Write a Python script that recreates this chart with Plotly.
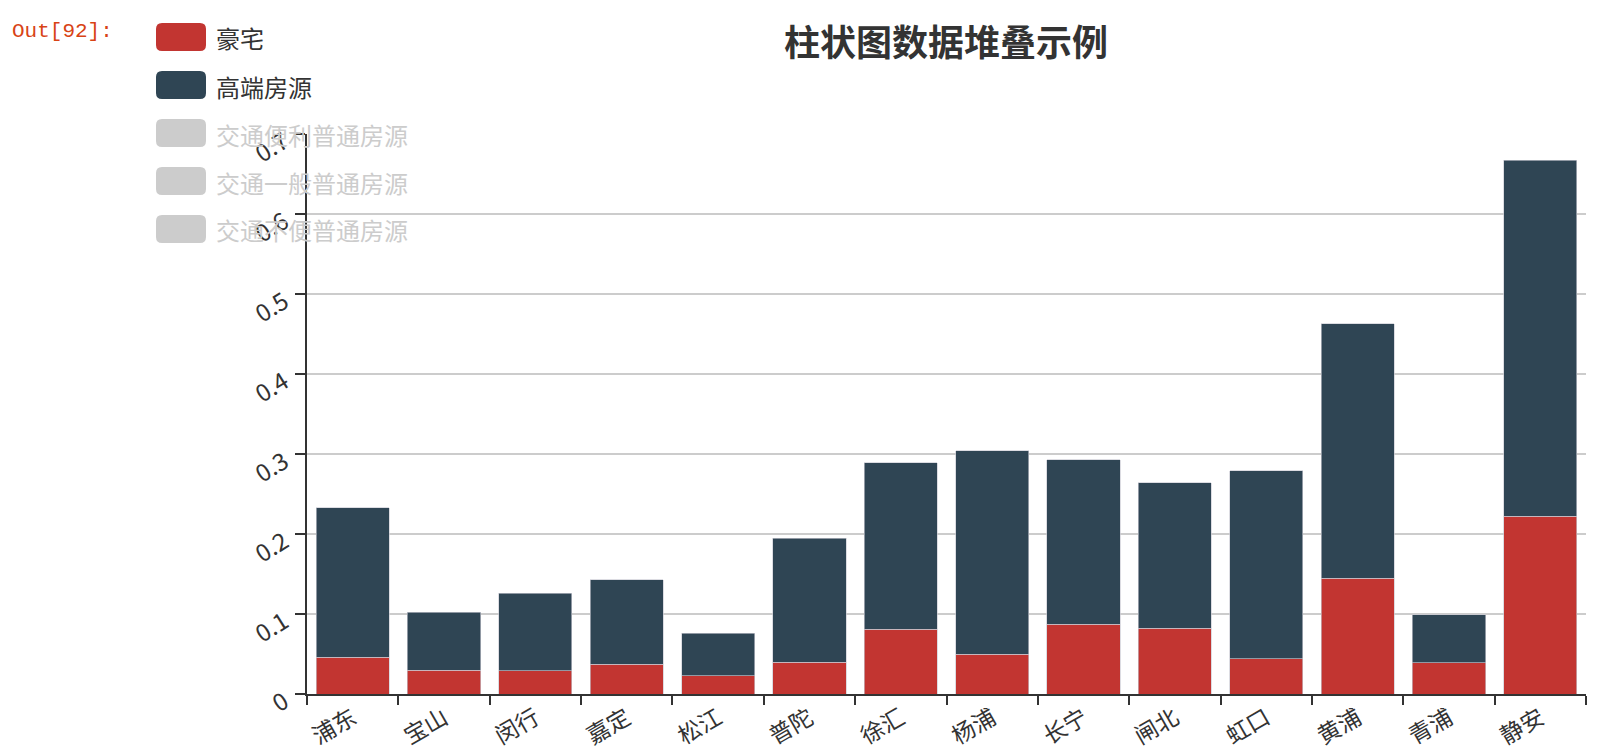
import plotly.graph_objects as go

districts = ["浦东", "宝山", "闵行", "嘉定", "松江", "普陀", "徐汇", "杨浦", "长宁", "闸北", "虹口", "黄浦", "青浦", "静安"]
luxury = [0.046, 0.030, 0.029, 0.037, 0.023, 0.040, 0.081, 0.050, 0.087, 0.082, 0.044, 0.145, 0.039, 0.222]
highend = [0.187, 0.072, 0.097, 0.106, 0.053, 0.155, 0.208, 0.254, 0.206, 0.182, 0.235, 0.318, 0.060, 0.445]
series_names = ["豪宅", "高端房源", "交通便利普通房源", "交通一般普通房源", "交通不便普通房源"]
series_active = [True, True, False, False, False]
series_colors = ["#c23531", "#2f4554", "#61a0a8", "#d48265", "#91c7ae"]
y_ticks = [0, 0.1, 0.2, 0.3, 0.4, 0.5, 0.6, 0.7]
title_text = "柱状图数据堆叠示例"

# page is 1614x751; the figure div sits at an 8px body margin
OFF = 8
W, H = 1614 - OFF, 751 - OFF
# plot area in page pixels: x 307..1586, y 134..694
PL, PR, PT, PB = 307, 1586, 134, 694
ML, MR, MT, MB = PL - OFF, W - (PR - OFF), PT - OFF, H - (PB - OFF)
PW, PH = PR - PL, PB - PT
FONT = "Noto Sans CJK SC"


def px(x):  # page x -> paper
    return (x - PL) / PW


def py(y):  # page y -> paper
    return (PB - y) / PH


fig = go.Figure()
fig.add_trace(go.Bar(x=districts, y=luxury, name=series_names[0],
                     marker=dict(color=series_colors[0], line=dict(color="rgba(200,200,210,0.8)", width=0.8))))
fig.add_trace(go.Bar(x=districts, y=highend, name=series_names[1],
                     marker=dict(color=series_colors[1], line=dict(color="rgba(200,200,210,0.8)", width=0.8))))

shapes = []
annotations = []

# custom legend
for i, (name, active) in enumerate(zip(series_names, series_active)):
    col = series_colors[i] if active else "#cccccc"
    tcol = "#333333" if active else "#cccccc"
    x0, x1 = 156, 206
    y0 = 23 + i * 48
    y1 = y0 + 28
    r = 6
    path = (f"M {px(x0 + r)},{py(y0)} L {px(x1 - r)},{py(y0)} "
            f"Q {px(x1)},{py(y0)} {px(x1)},{py(y0 + r)} L {px(x1)},{py(y1 - r)} "
            f"Q {px(x1)},{py(y1)} {px(x1 - r)},{py(y1)} L {px(x0 + r)},{py(y1)} "
            f"Q {px(x0)},{py(y1)} {px(x0)},{py(y1 - r)} L {px(x0)},{py(y0 + r)} "
            f"Q {px(x0)},{py(y0)} {px(x0 + r)},{py(y0)} Z")
    shapes.append(dict(type="path", xref="paper", yref="paper", path=path,
                       fillcolor=col, line=dict(width=0), layer="above"))
    annotations.append(dict(xref="paper", yref="paper", x=px(214), y=py((y0 + y1) / 2 + 1),
                            xanchor="left", yanchor="middle", showarrow=False,
                            text=name, font=dict(family=FONT, size=24, color=tcol)))

# notebook output prompt
annotations.append(dict(xref="paper", yref="paper", x=px(10), y=py(31),
                        xanchor="left", yanchor="middle", showarrow=False,
                        text="Out[92]:", font=dict(family="Liberation Mono", size=21, color="#d84315")))
# cell border line
shapes.append(dict(type="line", xref="paper", yref="paper", x0=px(140), x1=px(1614), y0=py(1), y1=py(1),
                   line=dict(color="#cfcfcf", width=2)))

fig.update_layout(
    width=W, height=H,
    margin=dict(l=ML, r=MR, t=MT, b=MB, pad=0),
    barmode="stack", bargap=0.2,
    showlegend=False,
    plot_bgcolor="white", paper_bgcolor="white",
    title=dict(text="<b>" + title_text + "</b>", x=(946 - OFF) / W, xref="container", xanchor="center",
               y=1 - (43 - OFF) / H, yref="container", yanchor="middle",
               font=dict(family=FONT, size=36, color="#333333")),
    font=dict(family=FONT, color="#333333"),
    shapes=shapes, annotations=annotations,
)
fig.update_xaxes(
    type="category", tickson="boundaries", ticks="outside", ticklen=9, tickwidth=2, tickcolor="#333333",
    showline=True, linecolor="#333333", linewidth=2, showgrid=False, automargin=False,
    tickangle=-30, tickfont=dict(family=FONT, size=23, color="#333333"),
)
fig.update_yaxes(
    range=[0, 0.7], tickvals=y_ticks, ticktext=[f"{v:g}" for v in y_ticks],
    ticks="outside", ticklen=10, tickwidth=2, tickcolor="#333333",
    showline=True, linecolor="#333333", linewidth=2, automargin=False,
    showgrid=True, gridcolor="#cccccc", gridwidth=1.5, zeroline=False,
    tickangle=-32, tickfont=dict(family=FONT, size=24, color="#333333"),
    ticklabelshift=5, ticklabelstandoff=6,
)

fig.write_html("out.html")
